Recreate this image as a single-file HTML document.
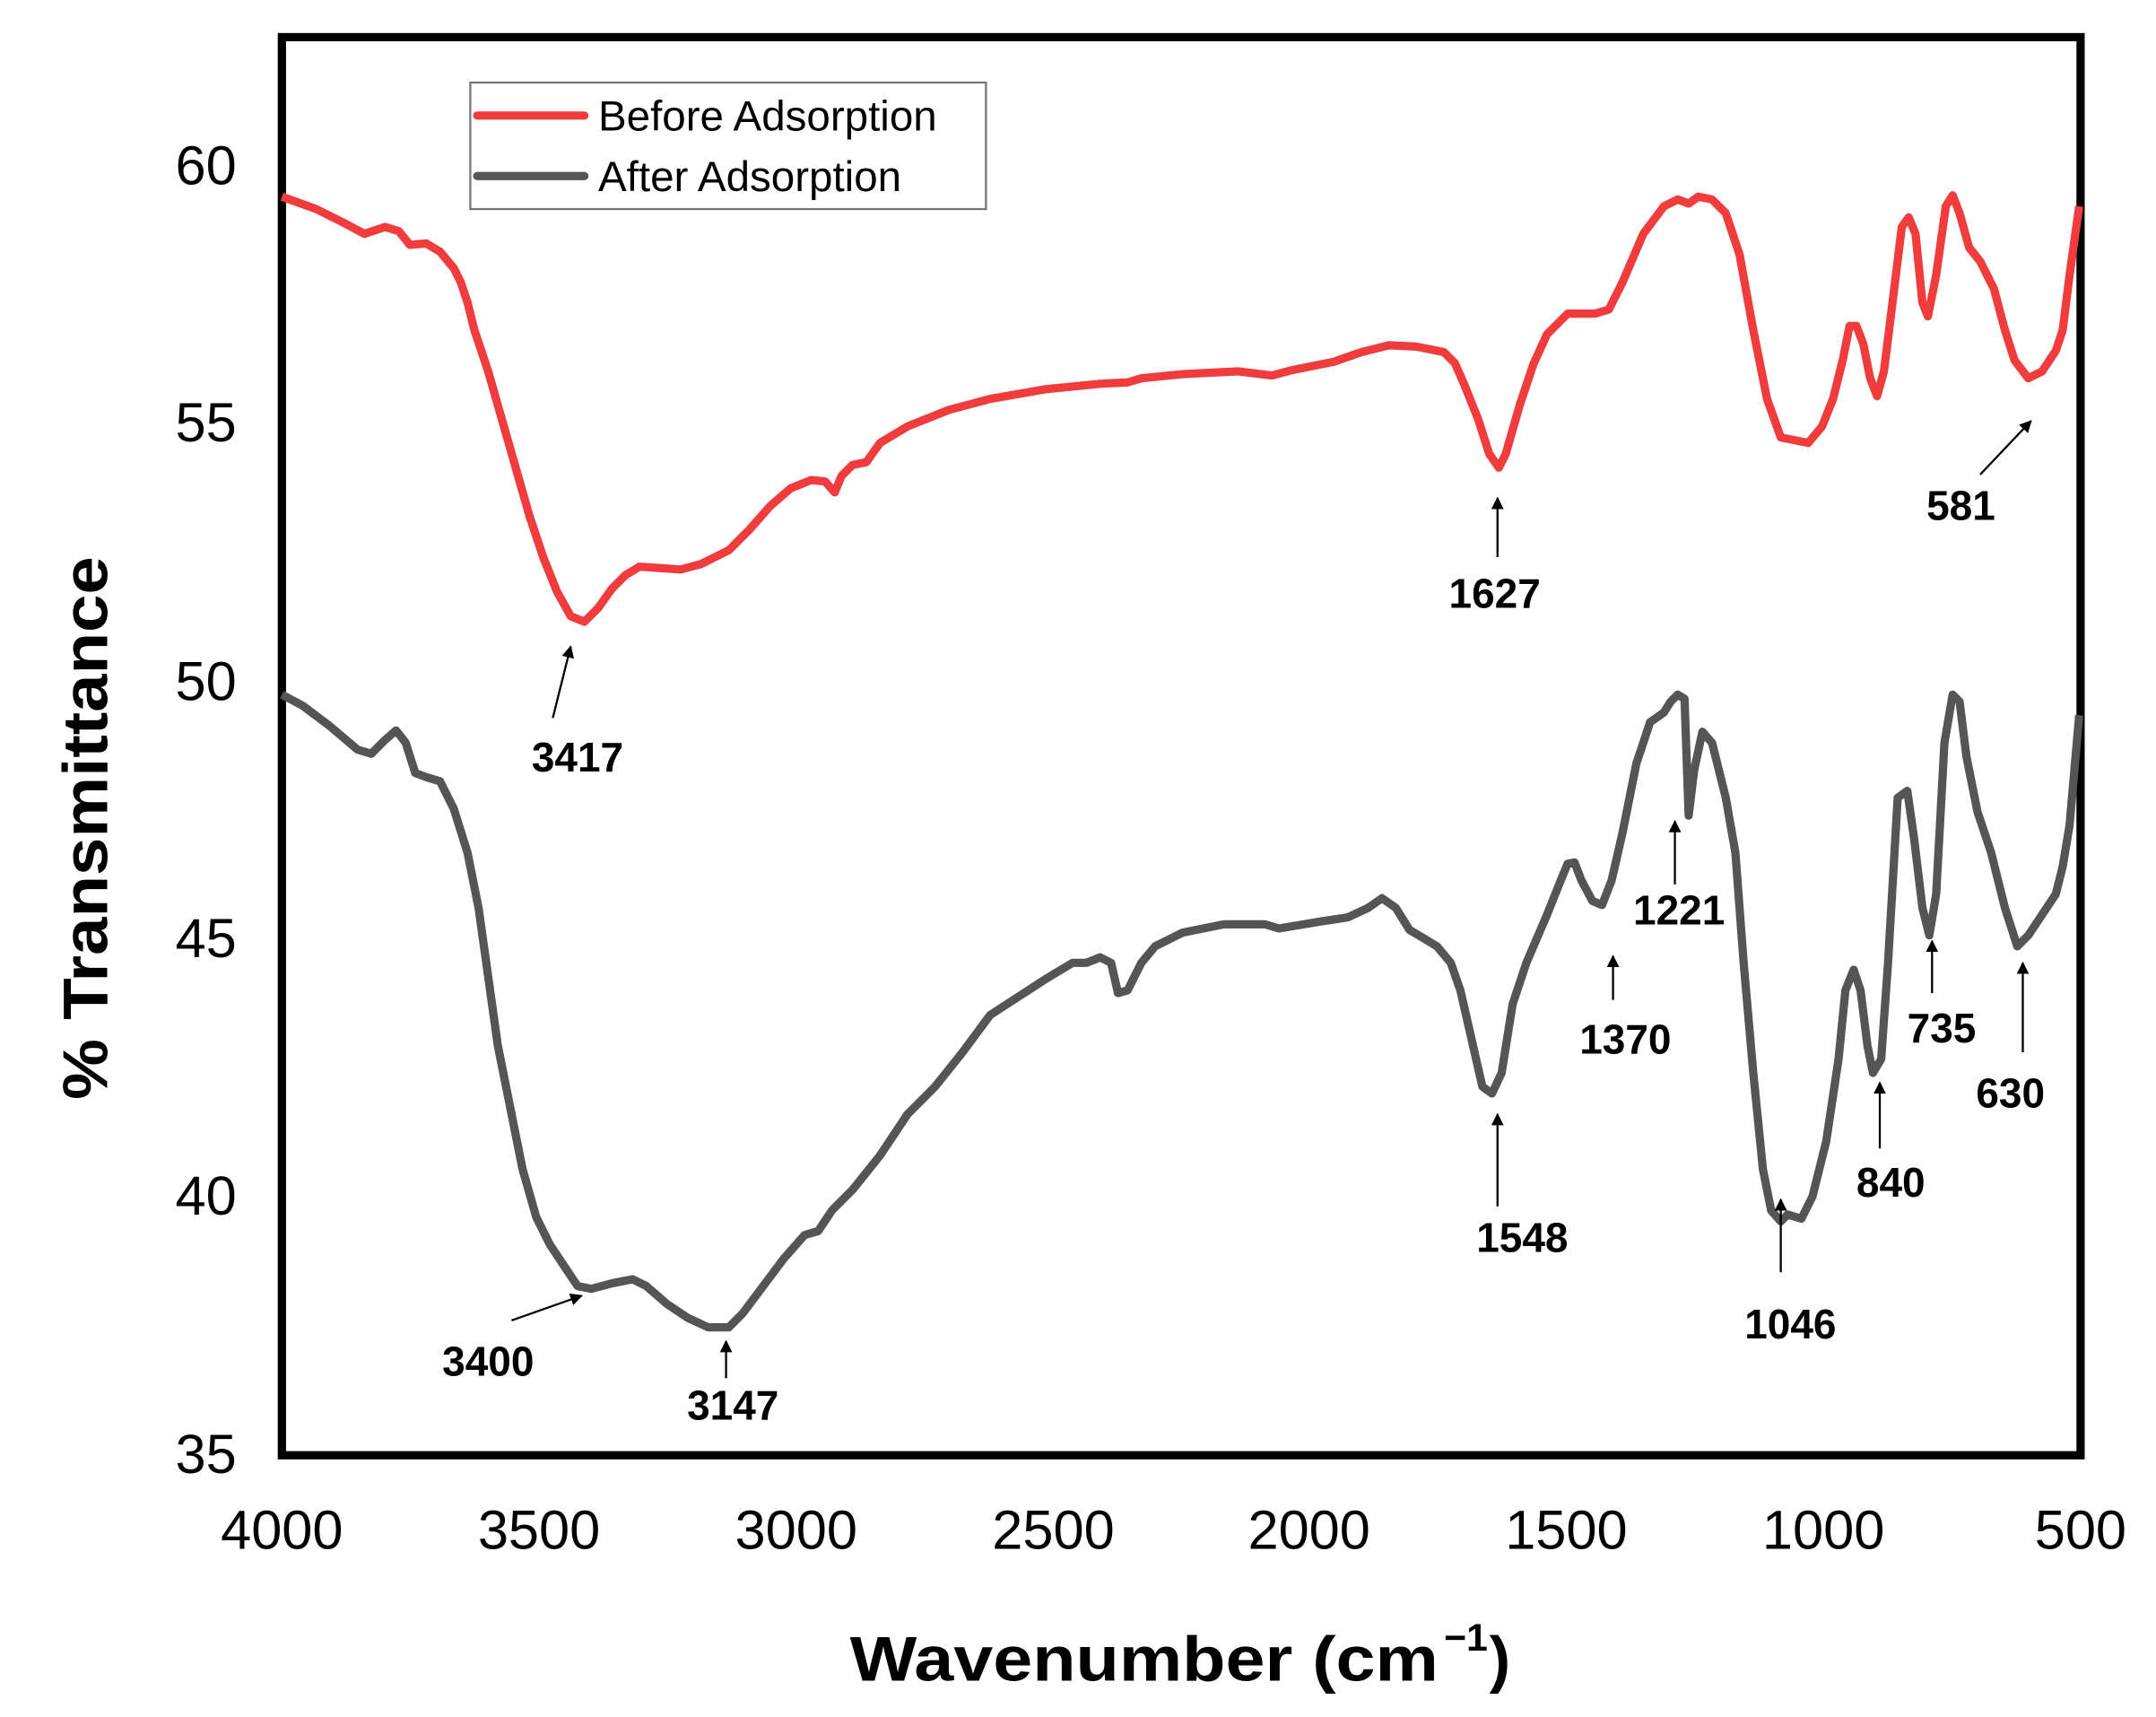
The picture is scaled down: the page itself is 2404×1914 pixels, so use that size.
<!DOCTYPE html>
<html><head><meta charset="utf-8"><style>
html,body{margin:0;padding:0;background:#fff;}
svg{display:block;}
</style></head><body>
<svg width="2404" height="1914" viewBox="0 0 2404 1914" xmlns="http://www.w3.org/2000/svg">
<defs>
<marker id="ah" viewBox="0 0 10 10" refX="9" refY="5" markerWidth="6" markerHeight="6" orient="auto-start-reverse" markerUnits="strokeWidth">
<path d="M0,0 L10,5 L0,10 z" fill="#000"/></marker>
</defs>
<rect width="2404" height="1914" fill="#fff"/>
<g transform="scale(1.5333)">
<rect x="205" y="27" width="1308" height="1031" fill="none" stroke="#000" stroke-width="6"/>
<rect x="342" y="60" width="375" height="92" fill="#fff" stroke="#777" stroke-width="1.5"/>
<line x1="347" y1="84" x2="425" y2="84" stroke="#f03c3c" stroke-width="6" stroke-linecap="round"/>
<line x1="347" y1="128" x2="425" y2="128" stroke="#555" stroke-width="6" stroke-linecap="round"/>
<g font-family="Liberation Sans, sans-serif" font-size="31" fill="#000">
<text x="435" y="95">Before Adsorption</text>
<text x="435" y="139">After Adsorption</text>
</g>
<g font-family="Liberation Sans, sans-serif" font-size="40" fill="#000" text-anchor="end">
<text x="172" y="134">60</text>
<text x="172" y="321">55</text>
<text x="172" y="509">50</text>
<text x="172" y="696">45</text>
<text x="172" y="883">40</text>
<text x="172" y="1071">35</text>
</g>
<g font-family="Liberation Sans, sans-serif" font-size="40" fill="#000" text-anchor="middle">
<text x="205" y="1126">4000</text>
<text x="392" y="1126">3500</text>
<text x="579" y="1126">3000</text>
<text x="766" y="1126">2500</text>
<text x="952" y="1126">2000</text>
<text x="1139" y="1126">1500</text>
<text x="1326" y="1126">1000</text>
<text x="1513" y="1126">500</text>
</g>
<text x="618" y="1222" font-family="Liberation Sans, sans-serif" font-weight="bold" font-size="46" textLength="428" lengthAdjust="spacingAndGlyphs">Wavenumber (cm</text>
<text x="1050" y="1200" font-family="Liberation Sans, sans-serif" font-weight="bold" font-size="28">−1</text>
<text x="1083" y="1222" font-family="Liberation Sans, sans-serif" font-weight="bold" font-size="46">)</text>
<text transform="translate(78,602) rotate(-90)" text-anchor="middle" font-family="Liberation Sans, sans-serif" font-weight="bold" font-size="46" textLength="395" lengthAdjust="spacingAndGlyphs">% Transmittance</text>
<polyline fill="none" stroke="#f03c3c" stroke-width="6" stroke-linejoin="round" points="205,143 230,152 250,162 265,170 280,165 290,168 298,178 310,177 320,183 330,195 335,205 340,220 345,240 355,270 365,305 375,340 385,375 395,405 405,430 415,448 425,452 435,442 445,428 455,418 465,412 480,413 495,414 510,410 530,400 545,385 560,368 575,355 590,349 600,350 607,358 612,346 620,338 630,336 640,322 660,310 690,298 720,290 760,283 800,279 820,278 830,275 860,272 900,270 925,273 940,269 970,263 990,256 1010,251 1030,252 1050,256 1058,264 1065,280 1075,305 1083,330 1090,340 1095,330 1105,295 1115,265 1125,243 1140,228 1160,228 1170,225 1180,205 1195,170 1210,150 1220,145 1228,148 1235,143 1245,145 1255,155 1265,185 1275,240 1285,290 1295,318 1315,322 1325,310 1333,290 1340,262 1345,237 1350,237 1355,250 1360,275 1365,288 1370,270 1375,230 1383,165 1388,158 1393,170 1398,220 1402,230 1408,200 1415,150 1420,142 1425,155 1432,180 1440,190 1450,210 1458,240 1465,262 1475,275 1485,270 1495,255 1500,240 1505,200 1512,150"/>
<polyline fill="none" stroke="#555" stroke-width="6" stroke-linejoin="round" points="205,505 220,513 240,528 260,545 270,548 280,538 288,531 295,540 302,562 310,565 320,568 330,588 340,620 348,660 355,710 362,760 370,800 380,850 390,885 400,905 410,920 420,935 430,937 445,933 460,930 470,935 485,948 500,958 515,965 530,965 540,955 555,935 570,915 585,898 595,895 605,880 620,865 640,840 660,810 680,790 700,765 720,738 740,725 760,712 780,700 790,700 800,696 808,700 813,722 820,720 830,700 840,688 860,678 890,672 920,672 930,675 960,670 980,667 995,660 1005,653 1015,660 1025,676 1035,682 1045,688 1055,700 1062,720 1070,755 1078,790 1085,795 1092,780 1100,730 1110,700 1125,665 1135,640 1140,628 1145,627 1150,640 1158,655 1165,658 1172,640 1180,605 1190,555 1200,525 1210,518 1215,510 1220,505 1225,508 1228,593 1232,560 1238,532 1245,540 1255,580 1262,620 1268,700 1275,780 1282,850 1288,880 1295,888 1300,883 1310,886 1318,870 1328,830 1337,770 1342,720 1348,705 1353,720 1358,760 1362,780 1368,770 1373,700 1380,580 1387,575 1392,610 1398,660 1403,680 1408,650 1414,540 1420,505 1425,510 1430,550 1438,590 1448,620 1458,660 1467,688 1475,680 1485,665 1495,650 1500,630 1505,600 1512,520"/>
<g stroke="#000" stroke-width="1.5" marker-end="url(#ah)">
<line x1="402" y1="522" x2="415" y2="470"/>
<line x1="1089" y1="405" x2="1089" y2="362"/>
<line x1="1440" y1="345" x2="1477" y2="306"/>
<line x1="372" y1="960" x2="423" y2="942"/>
<line x1="528" y1="1002" x2="528" y2="975"/>
<line x1="1089" y1="877" x2="1089" y2="810"/>
<line x1="1173" y1="727" x2="1173" y2="695"/>
<line x1="1218" y1="643" x2="1218" y2="597"/>
<line x1="1295" y1="925" x2="1295" y2="872"/>
<line x1="1367" y1="835" x2="1367" y2="787"/>
<line x1="1405" y1="722" x2="1405" y2="684"/>
<line x1="1471" y1="765" x2="1471" y2="700"/>
</g>
<g font-family="Liberation Sans, sans-serif" font-weight="bold" font-size="30" fill="#000" text-anchor="middle">
<text x="420" y="561">3417</text>
<text x="1087" y="442">1627</text>
<text x="1426" y="378">581</text>
<text x="355" y="1000">3400</text>
<text x="533" y="1032">3147</text>
<text x="1107" y="910">1548</text>
<text x="1182" y="766">1370</text>
<text x="1221" y="672">1221</text>
<text x="1302" y="973">1046</text>
<text x="1375" y="870">840</text>
<text x="1412" y="758">735</text>
<text x="1462" y="805">630</text>
</g>
</g>
</svg>
</body></html>
